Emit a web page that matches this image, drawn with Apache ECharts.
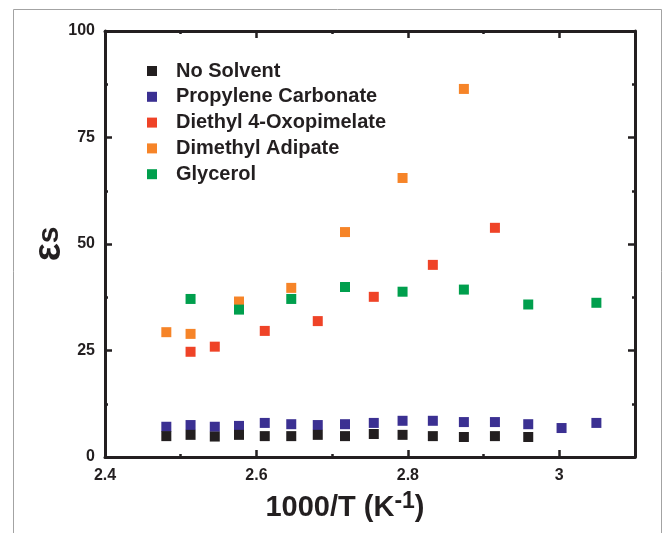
<!DOCTYPE html>
<html>
<head>
<meta charset="utf-8">
<script src="https://cdn.jsdelivr.net/npm/echarts@6/dist/echarts.min.js"></script>
<style>
html, body { margin: 0; padding: 0; background: #fff; }
#chart { width: 663px; height: 533px; }
</style>
</head>
<body>
<div id="chart"></div>
<script>
// 1000/T (K^-1) and static dielectric constant per solvent
const noSolventX = [2.481, 2.513, 2.545, 2.577, 2.611, 2.646, 2.681, 2.717, 2.755, 2.793, 2.833, 2.874, 2.915, 2.959]
const noSolventY = [4.9, 5.2, 4.8, 5.2, 4.9, 4.9, 5.2, 4.9, 5.4, 5.2, 4.9, 4.7, 4.9, 4.7]

const pcX = [2.481, 2.513, 2.545, 2.577, 2.611, 2.646, 2.681, 2.717, 2.755, 2.793, 2.833, 2.874, 2.915, 2.959, 3.003, 3.049]
const pcY = [7.1, 7.5, 7.1, 7.3, 8.0, 7.7, 7.5, 7.7, 8.0, 8.5, 8.5, 8.2, 8.2, 7.7, 6.8, 8.0]

const oxoX = [2.513, 2.545, 2.611, 2.681, 2.755, 2.833, 2.915]
const oxoY = [24.7, 25.9, 29.6, 31.9, 37.6, 45.1, 53.8]

const adipX = [2.481, 2.513, 2.577, 2.646, 2.717, 2.793, 2.874]
const adipY = [29.3, 28.9, 36.5, 39.7, 52.8, 65.5, 86.4]

const glyX = [2.513, 2.577, 2.646, 2.717, 2.793, 2.874, 2.959, 3.049]
const glyY = [37.1, 34.6, 37.1, 39.9, 38.8, 39.3, 35.8, 36.2]

const seriesNames = ['No Solvent', 'Propylene Carbonate', 'Diethyl 4-Oxopimelate', 'Dimethyl Adipate', 'Glycerol']
const seriesColors = ['#231f20', '#3b3092', '#ef4327', '#f68428', '#009f4d']

const ink = '#231f20'
const font = '"Liberation Sans", Arial, sans-serif'

const pairs = (xs, ys) => xs.map((x, i) => [x, ys[i]])
const allData = [
    pairs(noSolventX, noSolventY),
    pairs(pcX, pcY),
    pairs(oxoX, oxoY),
    pairs(adipX, adipY),
    pairs(glyX, glyY)
]

// 主轴 / 次刻度轴
const xMain = (pos, withLabel) => ({
    type: 'value',
    position: pos,
    min: 2.4,
    max: 3.1,
    interval: 0.2,
    axisLine: { show: true, onZero: false, lineStyle: { color: ink, width: 3 } },
    axisTick: { show: true, inside: true, length: 7, lineStyle: { color: ink, width: 2.5 } },
    axisLabel: {
        show: withLabel,
        showMaxLabel: false,
        color: ink,
        fontSize: 16,
        fontWeight: 'bold',
        fontFamily: font,
        margin: 11
    },
    splitLine: { show: false }
})
const xMinor = (pos) => ({
    type: 'value',
    position: pos,
    min: 2.4,
    max: 3.1,
    interval: 0.1,
    axisLine: { show: false, onZero: false },
    axisTick: { show: true, inside: true, length: 3, lineStyle: { color: ink, width: 2.5 } },
    axisLabel: { show: false },
    splitLine: { show: false }
})
const yAxisOf = (pos, withLabel) => ({
    type: 'value',
    position: pos,
    min: 0,
    max: 100,
    interval: 25,
    axisLine: { show: true, onZero: false, lineStyle: { color: ink, width: 3 } },
    axisTick: { show: true, inside: true, length: 7, lineStyle: { color: ink, width: 2.5 } },
    minorTick: { show: true, splitNumber: 2, length: 3, lineStyle: { color: ink, width: 2.5 } },
    axisLabel: {
        show: withLabel,
        color: ink,
        fontSize: 16,
        fontWeight: 'bold',
        fontFamily: font,
        margin: 10
    },
    splitLine: { show: false }
})

const xBottom = xMain('bottom', true)
xBottom.name = '{a|1000/T (K}{b|-1}{a|)}'
xBottom.nameLocation = 'middle'
xBottom.nameGap = 33
xBottom.nameTextStyle = {
    padding: [0, 50, 0, 0],
    rich: {
        a: { fontSize: 29, fontWeight: 'bold', fontFamily: font, color: ink, lineHeight: 36 },
        b: { fontSize: 23, fontWeight: 'bold', fontFamily: font, color: ink, lineHeight: 23, verticalAlign: 'top' }
    }
}

const yLeft = yAxisOf('left', true)
yLeft.name = '{e|ε}{s|s}'
yLeft.nameLocation = 'middle'
yLeft.nameRotate = 90
yLeft.nameGap = 36
yLeft.nameMoveOverlap = false
yLeft.nameTextStyle = {
    rich: {
        e: { fontSize: 38, fontWeight: 'bold', fontFamily: font, color: ink },
        s: { fontSize: 30, fontWeight: 'bold', fontFamily: font, color: ink }
    }
}

const myCharts = echarts.init(document.getElementById('chart'))
const option = {
    animation: false,
    backgroundColor: '#fff',
    graphic: [{
        type: 'rect',
        shape: { x: 13.5, y: 9.5, width: 648, height: 560 },
        style: { fill: 'none', stroke: '#a3a3a3', lineWidth: 1 },
        silent: true
    }],
    grid: {
        left: 105,
        right: 28,
        top: 31,
        bottom: 76,
        containLabel: false
    },
    legend: {
        show: true,
        orient: 'vertical',
        left: 142,
        top: 56,
        itemWidth: 10,
        itemHeight: 10,
        itemGap: 5.8,
        icon: 'rect',
        data: seriesNames,
        itemStyle: { opacity: 1 },
        textStyle: {
            color: ink,
            fontSize: 20,
            fontWeight: 'bold',
            fontFamily: font,
            lineHeight: 20,
            padding: [0, 0, 0, 14]
        }
    },
    xAxis: [xBottom, xMinor('bottom'), xMain('top', false), xMinor('top')],
    yAxis: [yLeft, yAxisOf('right', false)],
    series: allData.map((d, i) => ({
        name: seriesNames[i],
        type: 'scatter',
        xAxisIndex: 0,
        yAxisIndex: 0,
        symbol: 'rect',
        symbolSize: 10,
        z: i === 0 ? 3 : 2,
        itemStyle: { color: seriesColors[i], opacity: 1 },
        data: d
    }))
}
myCharts.setOption(option)
</script>
</body>
</html>
